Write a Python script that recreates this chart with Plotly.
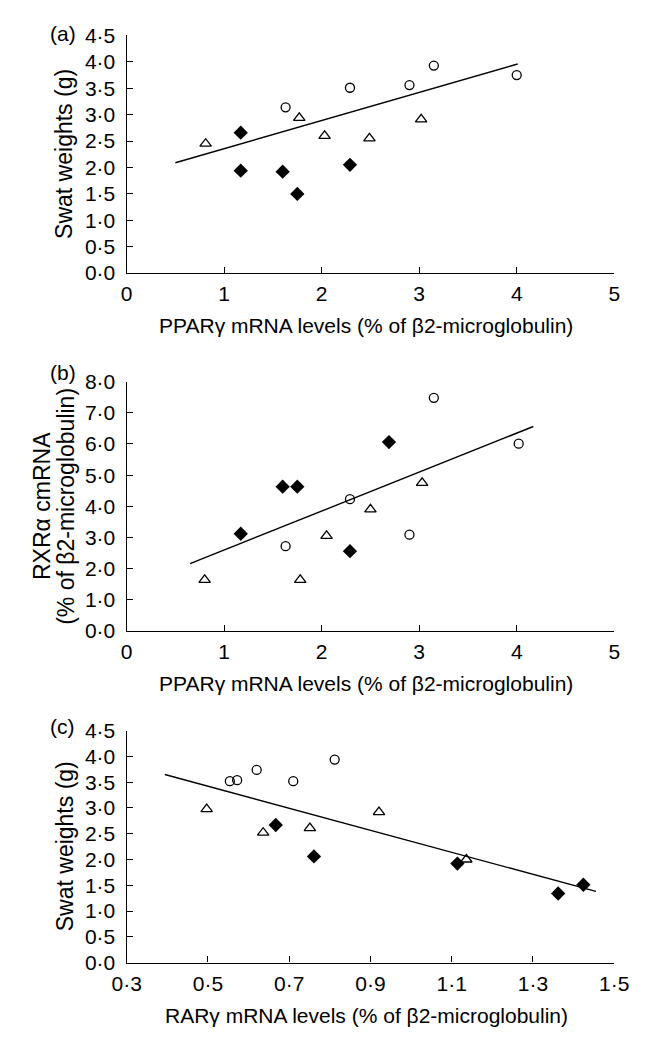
import plotly.graph_objects as go

# ---- Panel (a): Swat weight vs PPARγ mRNA ----
a_circle_x = [1.63, 2.29, 2.90, 3.15, 4.00]
a_circle_y = [3.14, 3.51, 3.56, 3.93, 3.75]
a_tri_x = [0.81, 1.77, 2.03, 2.49, 3.02]
a_tri_y = [2.45, 2.94, 2.60, 2.55, 2.91]
a_dia_x = [1.17, 1.17, 1.60, 1.75, 2.29]
a_dia_y = [2.66, 1.94, 1.92, 1.50, 2.05]
a_fit_x = [0.50, 4.01]
a_fit_y = [2.09, 3.96]

# ---- Panel (b): RXRα mRNA vs PPARγ mRNA ----
b_circle_x = [1.63, 2.29, 2.90, 3.15, 4.02]
b_circle_y = [2.72, 4.23, 3.09, 7.48, 6.01]
b_tri_x = [0.80, 1.78, 2.05, 2.50, 3.03]
b_tri_y = [1.64, 1.64, 3.05, 3.90, 4.75]
b_dia_x = [1.17, 1.60, 1.75, 2.69, 2.29]
b_dia_y = [3.12, 4.63, 4.63, 6.06, 2.56]
b_fit_x = [0.65, 4.17]
b_fit_y = [2.16, 6.56]

# ---- Panel (c): Swat weight vs RARγ mRNA ----
c_circle_x = [0.554, 0.572, 0.620, 0.710, 0.812]
c_circle_y = [3.52, 3.54, 3.74, 3.52, 3.94]
c_tri_x = [0.497, 0.636, 0.751, 0.921, 1.136]
c_tri_y = [2.98, 2.52, 2.61, 2.92, 2.00]
c_dia_x = [0.667, 0.761, 1.114, 1.362, 1.424]
c_dia_y = [2.67, 2.06, 1.92, 1.34, 1.51]
c_fit_x = [0.394, 1.455]
c_fit_y = [3.65, 1.38]

# ---- Axis ticks ----
swat_ticks = [0, 0.5, 1, 1.5, 2, 2.5, 3, 3.5, 4, 4.5]
swat_labels = ["0·0", "0·5", "1·0", "1·5", "2·0", "2·5", "3·0", "3·5", "4·0", "4·5"]
rxr_ticks = [0, 1, 2, 3, 4, 5, 6, 7, 8]
rxr_labels = ["0·0", "1·0", "2·0", "3·0", "4·0", "5·0", "6·0", "7·0", "8·0"]
ppar_ticks = [0, 1, 2, 3, 4, 5]
ppar_labels = ["0", "1", "2", "3", "4", "5"]
rar_ticks = [0.3, 0.5, 0.7, 0.9, 1.1, 1.3, 1.5]
rar_labels = ["0·3", "0·5", "0·7", "0·9", "1·1", "1·3", "1·5"]

W, H = 655, 1040
FONT = "Liberation Sans, Arial, sans-serif"
TICK_FS = 21
XT_FS = 21
YT_FS = 23

x_left, x_right = 117, 628
panels = [
    dict(top=24, bottom=267, xr=[0, 5], yr=[0, 4.5], xt=ppar_ticks, xl=ppar_labels,
         yt=swat_ticks, yl=swat_labels,
         data=(a_circle_x, a_circle_y, a_tri_x, a_tri_y, a_dia_x, a_dia_y, a_fit_x, a_fit_y),
         ytitle=["Swat weights (g)"],
         xtitle="PPARγ mRNA levels (% of β2-microglobulin)", tag="(a)", tag_y=22),
    dict(top=378, bottom=633, xr=[0, 5], yr=[0, 8], xt=ppar_ticks, xl=ppar_labels,
         yt=rxr_ticks, yl=rxr_labels,
         data=(b_circle_x, b_circle_y, b_tri_x, b_tri_y, b_dia_x, b_dia_y, b_fit_x, b_fit_y),
         ytitle=["RXRα cmRNA", "(% of β2-microglobulin)"],
         xtitle="PPARγ mRNA levels (% of β2-microglobulin)", tag="(b)", tag_y=369),
    dict(top=735, bottom=972, xr=[0.3, 1.5], yr=[0, 4.5], xt=rar_ticks, xl=rar_labels,
         yt=swat_ticks, yl=swat_labels,
         data=(c_circle_x, c_circle_y, c_tri_x, c_tri_y, c_dia_x, c_dia_y, c_fit_x, c_fit_y),
         ytitle=["Swat weights (g)"],
         xtitle="RARγ mRNA levels (% of β2-microglobulin)", tag="(c)", tag_y=731),
]

fig = go.Figure()
annotations = []
layout_axes = {}

for i, p in enumerate(panels, start=1):
    xa = "x" if i == 1 else f"x{i}"
    ya = "y" if i == 1 else f"y{i}"
    cx, cy, tx, ty, dx, dy, fx, fy = p["data"]

    # regression line
    fig.add_trace(go.Scatter(x=fx, y=fy, mode="lines", xaxis=xa, yaxis=ya,
                             line=dict(color="black", width=1.4), showlegend=False,
                             hoverinfo="skip"))
    # three groups of animals
    fig.add_trace(go.Scatter(x=cx, y=cy, mode="markers", xaxis=xa, yaxis=ya,
                             marker=dict(symbol="circle-open", size=9, color="black",
                                         line=dict(width=1.3, color="black")),
                             showlegend=False))
    fig.add_trace(go.Scatter(x=tx, y=ty, mode="markers", xaxis=xa, yaxis=ya,
                             marker=dict(symbol="triangle-up-open", size=10, color="black",
                                         line=dict(width=1.3, color="black")),
                             showlegend=False))
    fig.add_trace(go.Scatter(x=dx, y=dy, mode="markers", xaxis=xa, yaxis=ya,
                             marker=dict(symbol="diamond", size=11, color="black",
                                         line=dict(width=0)),
                             showlegend=False))

    y0 = 1 - p["bottom"] / H
    y1 = 1 - p["top"] / H
    common = dict(showgrid=False, zeroline=False, showline=True, linecolor="black",
                  linewidth=1.3, ticks="inside", ticklen=6, tickwidth=1.3,
                  tickcolor="black",
                  tickfont=dict(family=FONT, size=TICK_FS, color="black"),
                  tickmode="array", fixedrange=True)
    layout_axes["xaxis" if i == 1 else f"xaxis{i}"] = dict(
        domain=[x_left / W, x_right / W], range=p["xr"], anchor=ya,
        tickvals=p["xt"], ticktext=p["xl"], ticklabelstandoff=2, **common)
    layout_axes["yaxis" if i == 1 else f"yaxis{i}"] = dict(
        domain=[y0, y1], range=p["yr"], anchor=xa,
        tickvals=p["yt"], ticktext=p["yl"], ticklabelstandoff=6, **common)

    mid_y = 1 - (p["top"] + p["bottom"]) / 2 / H
    if len(p["ytitle"]) == 1:
        ypos = [52]
    else:
        ypos = [29, 54]
    for txt, xp in zip(p["ytitle"], ypos):
        annotations.append(dict(text=txt, xref="paper", yref="paper",
                                x=xp / W, y=mid_y, textangle=-90,
                                xanchor="center", yanchor="middle", showarrow=False,
                                font=dict(family=FONT, size=YT_FS, color="black")))
    annotations.append(dict(text=p["xtitle"], xref="paper", yref="paper",
                            x=368 / W, y=1 - (p["bottom"] + 54) / H,
                            xanchor="center", yanchor="middle", showarrow=False,
                            font=dict(family=FONT, size=XT_FS, color="black")))
    annotations.append(dict(text=p["tag"], xref="paper", yref="paper",
                            x=50 / W, y=1 - p["tag_y"] / H,
                            xanchor="center", yanchor="middle", showarrow=False,
                            font=dict(family=FONT, size=TICK_FS, color="black")))

fig.update_layout(width=W, height=H, margin=dict(l=0, r=0, t=0, b=0),
                  paper_bgcolor="white", plot_bgcolor="white",
                  annotations=annotations, **layout_axes)

fig.write_html("out.html", config={"displayModeBar": False})
